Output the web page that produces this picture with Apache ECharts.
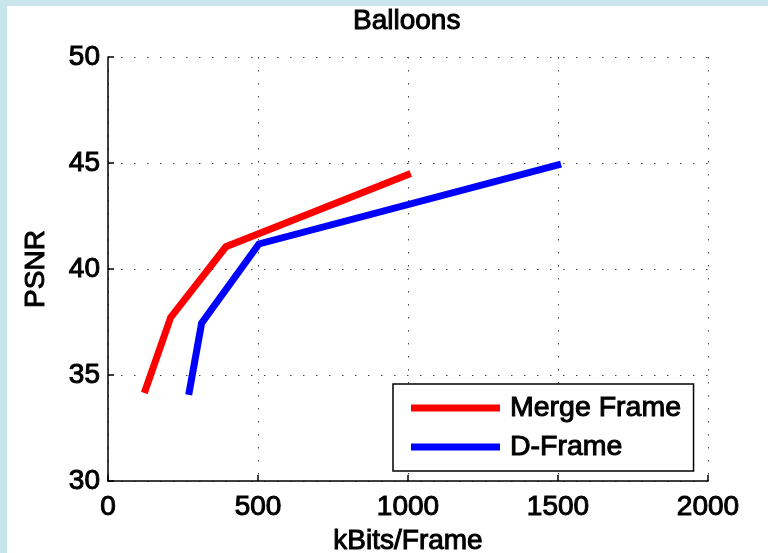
<!DOCTYPE html>
<html>
<head>
<meta charset="utf-8">
<script src="https://cdn.jsdelivr.net/npm/echarts@6/dist/echarts.min.js"></script>
<style>
html,body{margin:0;padding:0;width:768px;height:553px;overflow:hidden;background:#c7e5ea;}
#paper{position:absolute;left:7px;top:6px;right:0;bottom:0;background:#fff;}
#chart{position:absolute;left:0;top:0;width:768px;height:553px;}
</style>
</head>
<body>
<div id="paper"></div>
<div id="chart"></div>
<script>
// Data
const titleText = 'Balloons';
const xName = 'kBits/Frame';
const yName = 'PSNR';
const seriesNames = ['Merge Frame', 'D-Frame'];
const mergeX = [121, 209, 393, 1009];
const mergeY = [34.15, 37.72, 41.05, 44.51];
const dframeX = [269, 312, 503, 1510];
const dframeY = [34.06, 37.44, 41.18, 44.95];
const xTicks = [0, 500, 1000, 1500, 2000];
const yTicks = [30, 35, 40, 45, 50];

const font = 'Liberation Sans, Arial, Helvetica, sans-serif';
const txt = {color:'#000', fontFamily:font, fontSize:28, fontWeight:'normal', textBorderColor:'#000', textBorderWidth:1};

const chart = echarts.init(document.getElementById('chart'), null, {renderer:'canvas'});
const pair = (xs, ys) => xs.map((x, i) => [x, ys[i]]);

chart.setOption({
  animation:false,
  backgroundColor:'transparent',
  title:{text:titleText, left:353, top:7, padding:0, textStyle:Object.assign({}, txt)},
  grid:{left:108, right:60, top:57, bottom:72, containLabel:false, outerBoundsMode:'none'},
  legend:{
    data:seriesNames.map(n => ({name:n, icon:'rect'})),
    orient:'vertical', left:393, top:384,
    itemWidth:89, itemHeight:7, itemGap:9,
    padding:[9, 12, 9, 18],
    backgroundColor:'#fff', borderColor:'#000', borderWidth:1.5, borderRadius:0,
    textStyle:Object.assign({}, txt, {fontSize:28.5, lineHeight:28, padding:[0,0,0,5]}),
    selectedMode:false
  },
  xAxis:{
    type:'value', min:xTicks[0], max:xTicks[xTicks.length-1], interval:500,
    name:xName, nameLocation:'middle', nameGap:42,
    nameTextStyle:Object.assign({}, txt),
    axisLine:{show:true, lineStyle:{color:'#000', width:1.5}},
    axisTick:{show:true, inside:true, length:6, lineStyle:{color:'#000', width:1.5}},
    axisLabel:Object.assign({}, txt, {margin:12, formatter:v => String(v)}),
    splitLine:{show:true, lineStyle:{color:'#444', width:1, type:[1.5, 11.5]}}
  },
  yAxis:{
    type:'value', min:yTicks[0], max:yTicks[yTicks.length-1], interval:5,
    name:yName, nameLocation:'middle', nameGap:58, nameRotate:90,
    nameTextStyle:Object.assign({}, txt),
    axisLine:{show:true, lineStyle:{color:'#000', width:1.5}},
    axisTick:{show:true, inside:true, length:6, lineStyle:{color:'#000', width:1.5}},
    axisLabel:Object.assign({}, txt, {margin:8, formatter:v => String(v)}),
    splitLine:{show:true, lineStyle:{color:'#444', width:1, type:[1.5, 11.5]}}
  },
  series:[
    {name:seriesNames[0], type:'line', data:pair(mergeX, mergeY), showSymbol:false, symbol:'none',
     itemStyle:{color:'#ff0000'}, lineStyle:{color:'#ff0000', width:7, cap:'butt', join:'miter'}},
    {name:seriesNames[1], type:'line', data:pair(dframeX, dframeY), showSymbol:false, symbol:'none',
     itemStyle:{color:'#0000ff'}, lineStyle:{color:'#0000ff', width:7, cap:'butt', join:'miter'}}
  ]
});
</script>
</body>
</html>
